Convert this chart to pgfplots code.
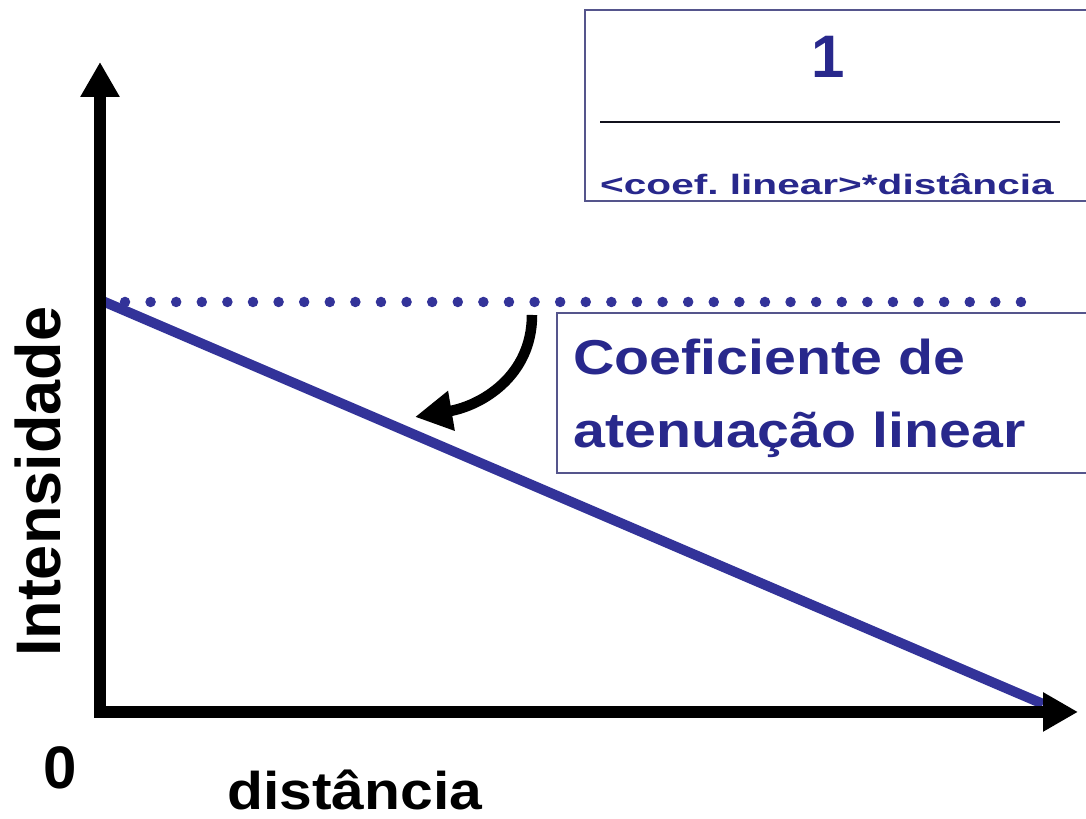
\documentclass[border=0pt]{standalone}
\usepackage{graphicx}
\usepackage{pgfplots}
\pgfplotsset{compat=1.18}
\usetikzlibrary{arrows.meta}
\usepackage{fontspec}
\setmainfont{Liberation Sans}
\definecolor{lineblue}{RGB}{51,51,153}
\definecolor{textblue}{RGB}{40,40,140}
\definecolor{boxedge}{RGB}{85,85,140}

\begin{document}
\begin{tikzpicture}
\begin{axis}[
  scale only axis, width=1086pt, height=819pt,
  xmin=-100, xmax=986, ymin=-107, ymax=712,
  hide axis, clip=false,
]
% intensity falling linearly with distance
\addplot[lineblue, line width=10pt] coordinates {(0,412) (943,8)};
% initial intensity level
\addplot[lineblue, line width=10.5pt, line cap=round, dash pattern=on 0pt off 25.6pt]
  coordinates {(25,410) (921.5,410)};
% axes with arrow heads
\addplot[black, line width=12pt, -{Triangle[length=35pt,width=37pt]}]
  coordinates {(-6,0) (978,0)};
\addplot[black, line width=12pt, -{Triangle[length=35pt,width=37pt]}]
  coordinates {(0,-6) (0,650)};

% curved arrow marking the slope
\draw[black, line width=10.5pt, -{Triangle[length=37pt,width=38pt]}]
  (axis cs:432,397) .. controls (axis cs:432,335) and (axis cs:380,306) .. (axis cs:315,295);

% fraction box
\draw[boxedge, line width=1.8pt] (axis cs:986,702) -- (axis cs:485,702) -- (axis cs:485,511) -- (axis cs:986,511);
\node[textblue, inner sep=0pt, font=\fontsize{60}{66}\selectfont\bfseries] at (axis cs:728,655) {1};
\draw[black!80!boxedge, line width=1.5pt] (axis cs:500,590) -- (axis cs:960,590);
\node[textblue, inner sep=0pt, anchor=base west, font=\fontsize{28}{32}\selectfont\bfseries]
  at (axis cs:500,517) {\scalebox{1.45}[1]{<coef.\ linear>*distância}};

% label box
\draw[boxedge, line width=1.8pt] (axis cs:986,399) -- (axis cs:457,399) -- (axis cs:457,239) -- (axis cs:986,239);
\node[textblue, inner sep=0pt, anchor=base west, font=\fontsize{49}{55}\selectfont\bfseries]
  at (axis cs:473,337) {\scalebox{1.17}[1]{Coeficiente de}};
\node[textblue, inner sep=0pt, anchor=base west, font=\fontsize{49}{55}\selectfont\bfseries]
  at (axis cs:473,264) {\scalebox{1.17}[1]{atenuação linear}};

% axis labels
\node[black, inner sep=0pt, anchor=base, rotate=90, font=\fontsize{63}{70}\selectfont\bfseries]
  at (axis cs:-40,230) {Intensidade};
\node[black, inner sep=0pt, font=\fontsize{60}{66}\selectfont\bfseries] at (axis cs:-40,-56) {0};
\node[black, inner sep=0pt, anchor=base west, font=\fontsize{53}{60}\selectfont\bfseries]
  at (axis cs:127,-98) {\scalebox{1.11}[1]{distância}};
\end{axis}
% the page is exactly the plotting area
\pgfresetboundingbox
\path (current axis.south west) rectangle (current axis.north east);
\end{tikzpicture}
\end{document}
